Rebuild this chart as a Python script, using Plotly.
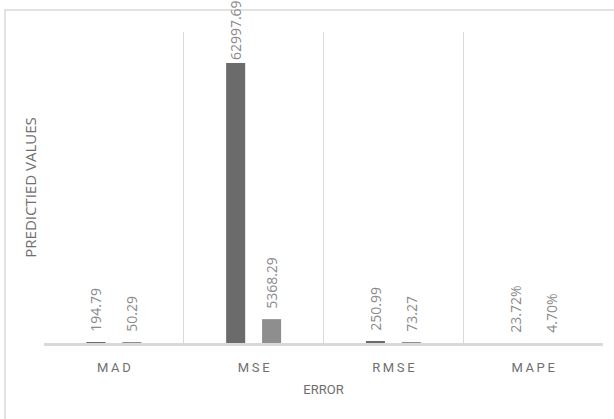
import plotly.graph_objects as go

categories = ["MAD", "MSE", "RMSE", "MAPE"]
series_a = [194.79, 62997.69, 250.99, 0.2372]
series_b = [50.29, 5368.29, 73.27, 0.0470]
labels_a = ["194.79", "62997.69", "250.99", "23.72%"]
labels_b = ["50.29", "5368.29", "73.27", "4.70%"]
tick_text = ["M\u2009A\u2009D", "M\u2009S\u2009E", "R\u2009M\u2009S\u2009E", "M\u2009A\u2009P\u2009E"]

y_max = 70000
pad = "\u00a0\u00a0"


def padded(labels, values):
    return [(pad + t) if v < 0.5 * y_max else t for t, v in zip(labels, values)]


label_font = dict(family="Open Sans", size=14, color="#8a8a8a")
axis_font = dict(family="Roboto", size=13, color="#6f6f6f")

fig = go.Figure()
fig.add_trace(go.Bar(
    x=categories, y=series_a, name="Series A",
    marker=dict(color="#6b6b6b", line=dict(width=0)),
    text=padded(labels_a, series_a), textposition="outside", textangle=-90,
    textfont=label_font, cliponaxis=False, constraintext="none",
    hoverinfo="x+y",
))
fig.add_trace(go.Bar(
    x=categories, y=series_b, name="Series B",
    marker=dict(color="#8e8e8e", line=dict(width=0)),
    text=padded(labels_b, series_b), textposition="outside", textangle=-90,
    textfont=label_font, cliponaxis=False, constraintext="none",
    hoverinfo="x+y",
))

fig.update_layout(
    width=614, height=419,
    margin=dict(l=44, r=11, t=32, b=76),
    paper_bgcolor="white", plot_bgcolor="white",
    barmode="group", bargap=0.486, bargroupgap=0.47,
    showlegend=False,
    xaxis=dict(
        tickmode="array", tickvals=categories, ticktext=tick_text,
        tickson="boundaries", showgrid=True, gridcolor="#d9d9d9", gridwidth=1,
        showline=True, linecolor="#d9d9d9", linewidth=2.5,
        layer="above traces",
        ticks="", ticklabelstandoff=11,
        tickfont=axis_font,
        title=dict(text="ERROR", standoff=11, font=axis_font),
        automargin=False,
    ),
    yaxis=dict(
        range=[0, y_max], showgrid=False, zeroline=False, showticklabels=False,
        ticks="", showline=False,
        title=dict(text="PREDICTIED VALUES", standoff=2,
                   font=dict(family="Open Sans", size=15, color="#6f6f6f")),
        automargin=False,
    ),
    shapes=[dict(type="rect", xref="paper", yref="paper",
                 x0=-0.0698, x1=1.05, y0=-0.35, y1=1.0707,
                 line=dict(color="#d9d9d9", width=1.5), fillcolor="rgba(0,0,0,0)", layer="below")],
)

fig.write_html("out.html")
